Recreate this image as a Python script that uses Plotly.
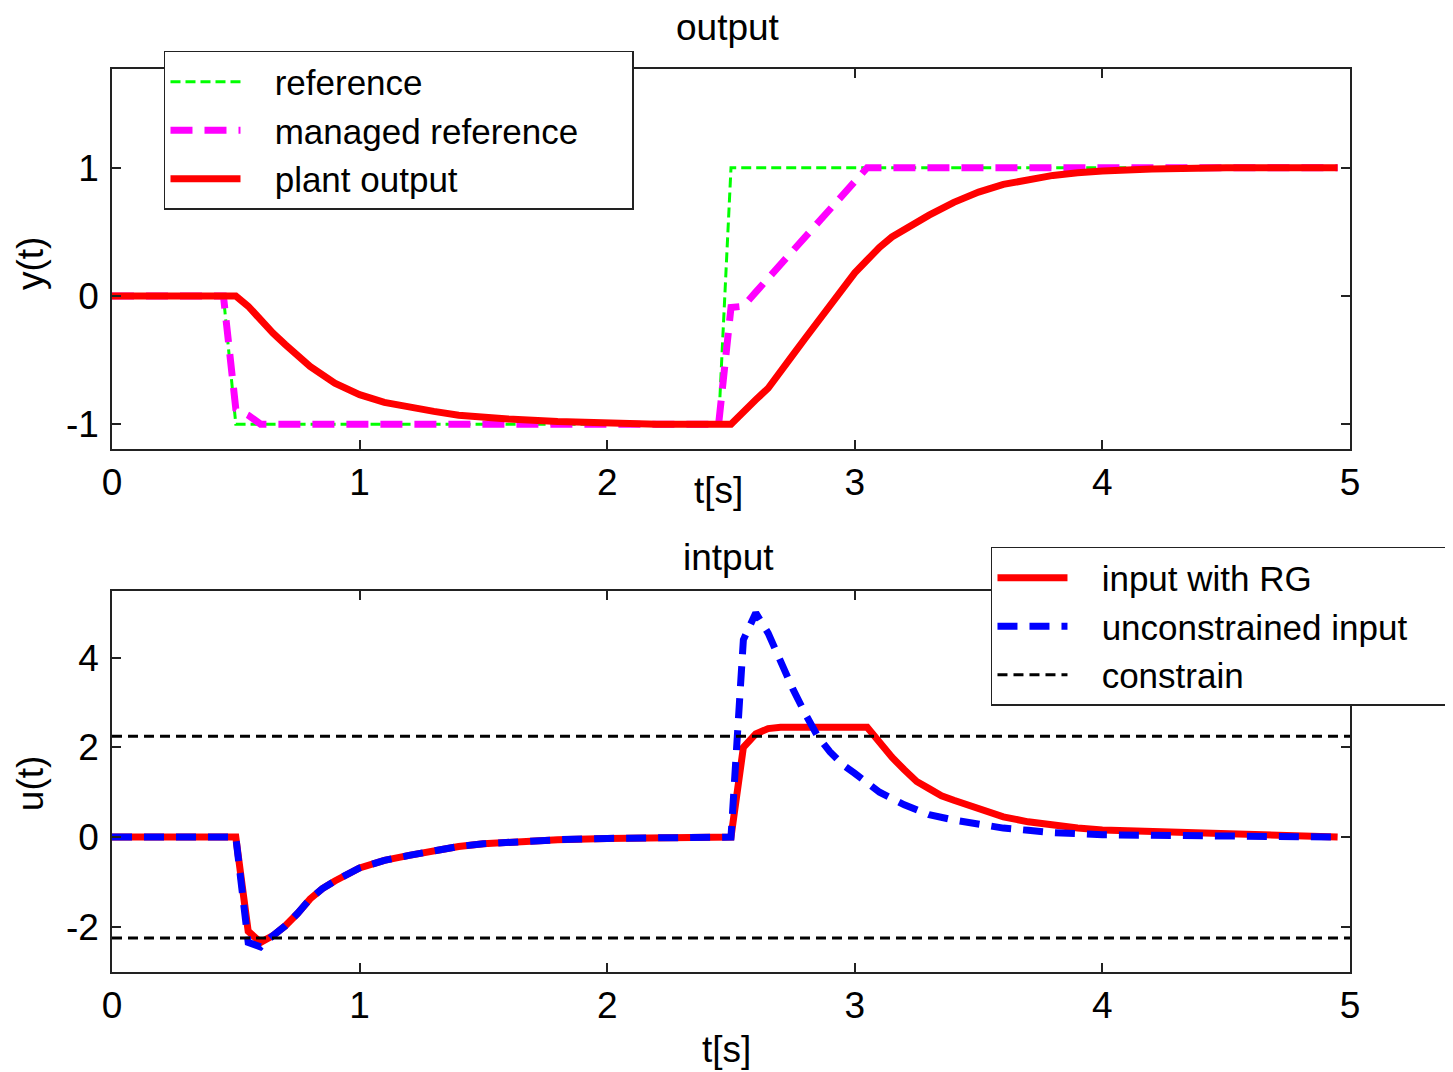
import plotly.graph_objects as go

# ---------------- data ----------------
# top: output
t_ref = [0, 0.45, 0.5, 2.45, 2.5, 4.95]
y_ref = [0, 0, -1, -1, 1, 1]

t_man = [0, 0.45, 0.5, 0.55, 0.6, 2.45, 2.5, 2.55, 2.6, 2.65, 2.7, 2.75, 2.8,
         2.85, 2.9, 2.95, 3.0, 3.05, 4.95]
y_man = [0, 0, -0.88, -0.93, -1, -1, -0.09, -0.08, 0.03, 0.14, 0.25, 0.36, 0.47,
         0.58, 0.69, 0.80, 0.91, 1.0, 1.0]

t_out = [0, 0.45, 0.5, 0.55, 0.6, 0.65, 0.7, 0.75, 0.8, 0.9, 1.0, 1.1, 1.2, 1.3,
         1.4, 1.5, 1.6, 1.8, 2.0, 2.2, 2.5, 2.55, 2.6, 2.65, 2.7, 2.75, 2.8, 2.85,
         2.9, 2.95, 3.0, 3.05, 3.1, 3.15, 3.2, 3.3, 3.4, 3.5, 3.6, 3.7, 3.8, 3.9,
         4.0, 4.2, 4.5, 4.95]
y_out = [0, 0, 0, -0.08, -0.19, -0.29, -0.38, -0.47, -0.55, -0.68, -0.77, -0.83,
         -0.87, -0.90, -0.93, -0.95, -0.96, -0.98, -0.99, -1.0, -1.0, -0.9, -0.81,
         -0.72, -0.6, -0.46, -0.33, -0.2, -0.06, 0.07, 0.18, 0.28, 0.38, 0.46, 0.52,
         0.63, 0.73, 0.81, 0.87, 0.91, 0.94, 0.96, 0.975, 0.99, 1.0, 1.0]

# bottom: input
t_rg = [0, 0.5, 0.55, 0.6, 0.65, 0.7, 0.75, 0.8, 0.85, 0.9, 1.0, 1.1, 1.2, 1.3,
        1.4, 1.5, 1.6, 1.8, 2.0, 2.2, 2.5, 2.55, 2.6, 2.65, 2.7, 3.05, 3.1, 3.15,
        3.2, 3.25, 3.3, 3.35, 3.4, 3.45, 3.5, 3.6, 3.7, 3.8, 3.9, 4.0, 4.2, 4.5,
        4.7, 4.95]
u_rg = [0, 0, -2.1, -2.35, -2.2, -1.98, -1.7, -1.38, -1.15, -0.98, -0.69, -0.52,
        -0.41, -0.30, -0.21, -0.15, -0.11, -0.06, -0.03, -0.01, 0, 2.0, 2.3, 2.42,
        2.45, 2.45, 2.1, 1.78, 1.5, 1.24, 1.08, 0.92, 0.82, 0.72, 0.62, 0.45, 0.34,
        0.26, 0.2, 0.16, 0.12, 0.08, 0.04, 0]

t_unc = [0, 0.5, 0.55, 0.6, 0.65, 0.7, 0.75, 0.8, 0.85, 0.9, 1.0, 1.1, 1.2, 1.3,
         1.4, 1.5, 1.6, 1.8, 2.0, 2.2, 2.5, 2.55, 2.6, 2.65, 2.7, 2.75, 2.8, 2.85,
         2.9, 2.95, 3.0, 3.1, 3.2, 3.3, 3.4, 3.5, 3.6, 3.7, 3.8, 4.0, 4.5, 4.95]
u_unc = [0, 0, -2.35, -2.45, -2.2, -1.98, -1.7, -1.38, -1.15, -0.98, -0.69, -0.52,
         -0.41, -0.30, -0.21, -0.15, -0.11, -0.06, -0.03, -0.01, 0, 4.4, 5.0, 4.55,
         3.9, 3.3, 2.75, 2.25, 1.9, 1.62, 1.42, 1.0, 0.72, 0.5, 0.38, 0.28, 0.2,
         0.15, 0.1, 0.05, 0.02, 0]

t_con = [0, 5]
u_con_hi = [2.25, 2.25]
u_con_lo = [-2.25, -2.25]

x_ticks = [0, 1, 2, 3, 4, 5]
x_ticktext = ["0", "1", "2", "3", "4", "5"]
y_ticks_top = [-1, 0, 1]
y_ticktext_top = ["-1", "0", "1"]
y_ticks_bot = [-2, 0, 2, 4]
y_ticktext_bot = ["-2", "0", "2", "4"]

# ---------------- figure ----------------
FONT = "Liberation Sans, Arial, sans-serif"
NB = "\u00a0"
PRE = NB * 3

fig = go.Figure()

fig.add_trace(go.Scatter(x=t_ref, y=y_ref, mode="lines", name=PRE + "reference",
                         line=dict(color="#00ff00", width=3, dash="10px,5px"),
                         xaxis="x", yaxis="y", legend="legend"))
fig.add_trace(go.Scatter(x=t_man, y=y_man, mode="lines",
                         name=PRE + "managed reference" + NB * 5,
                         line=dict(color="#ff00ff", width=7, dash="22px,12px"),
                         xaxis="x", yaxis="y", legend="legend"))
fig.add_trace(go.Scatter(x=t_out, y=y_out, mode="lines", name=PRE + "plant output",
                         line=dict(color="#ff0000", width=7),
                         xaxis="x", yaxis="y", legend="legend"))

fig.add_trace(go.Scatter(x=t_rg, y=u_rg, mode="lines", name=PRE + "input with RG",
                         line=dict(color="#ff0000", width=7),
                         xaxis="x2", yaxis="y2", legend="legend2"))
fig.add_trace(go.Scatter(x=t_unc, y=u_unc, mode="lines",
                         name=PRE + "unconstrained input" + NB * 5,
                         line=dict(color="#0000ff", width=7, dash="20px,12px"),
                         xaxis="x2", yaxis="y2", legend="legend2"))
fig.add_trace(go.Scatter(x=t_con, y=u_con_hi, mode="lines", name=PRE + "constrain",
                         line=dict(color="#000000", width=3, dash="10px,6px"),
                         xaxis="x2", yaxis="y2", legend="legend2"))
fig.add_trace(go.Scatter(x=t_con, y=u_con_lo, mode="lines", name="constrain",
                         showlegend=False,
                         line=dict(color="#000000", width=3, dash="10px,6px"),
                         xaxis="x2", yaxis="y2", legend="legend2"))

axis_common = dict(showline=True, linecolor="#222222", linewidth=1.5, mirror="ticks",
                   ticks="inside", ticklen=9, tickwidth=1.5, tickcolor="#222222",
                   showgrid=False, zeroline=False,
                   tickfont=dict(family=FONT, size=37, color="black"))

legend_common = dict(font=dict(family=FONT, size=35, color="black"),
                     bgcolor="white", bordercolor="#222222", borderwidth=1.5,
                     xref="paper", yref="paper", xanchor="left", yanchor="top",
                     itemwidth=70, tracegroupgap=0)

fig.update_layout(
    width=1453, height=1072,
    margin=dict(l=104, r=111, t=61, b=108, autoexpand=False),
    paper_bgcolor="white", plot_bgcolor="white",
    font=dict(family=FONT, color="black"),
    xaxis=dict(domain=[0, 1], range=[0, 5], tickvals=x_ticks, ticktext=x_ticktext,
               anchor="y", ticklabelstandoff=0, **axis_common),
    yaxis=dict(domain=[0.579, 1], range=[-1.195, 1.77], tickvals=y_ticks_top,
               ticktext=y_ticktext_top, anchor="x", ticklabelstandoff=4,
               **axis_common),
    xaxis2=dict(domain=[0, 1], range=[0, 5], tickvals=x_ticks, ticktext=x_ticktext,
                anchor="y2", ticklabelstandoff=0, **axis_common),
    yaxis2=dict(domain=[0, 0.422], range=[-3.01, 5.49], tickvals=y_ticks_bot,
                ticktext=y_ticktext_bot, anchor="x2", ticklabelstandoff=4,
                **axis_common),
    legend=dict(x=0.042, y=1.02, **legend_common),
    legend2=dict(x=0.71, y=0.4707, **legend_common),
    showlegend=True,
)

ann_font = dict(family=FONT, size=37, color="black")
annotations = [
    dict(text="output", x=0.4976, y=1.046, xref="paper", yref="paper",
         xanchor="center", yanchor="middle", showarrow=False, font=ann_font),
    dict(text="intput", x=0.4976, y=0.459, xref="paper", yref="paper",
         xanchor="center", yanchor="middle", showarrow=False, font=ann_font),
    dict(text="t[s]", x=0.4895, y=0.5327, xref="paper", yref="paper",
         xanchor="center", yanchor="middle", showarrow=False, font=ann_font),
    dict(text="t[s]", x=0.496, y=-0.0853, xref="paper", yref="paper",
         xanchor="center", yanchor="middle", showarrow=False, font=ann_font),
    dict(text="y(t)", x=-0.0663, y=0.785, xref="paper", yref="paper",
         xanchor="center", yanchor="middle", showarrow=False, textangle=-90,
         font=ann_font),
    dict(text="u(t)", x=-0.0663, y=0.209, xref="paper", yref="paper",
         xanchor="center", yanchor="middle", showarrow=False, textangle=-90,
         font=ann_font),
]
fig.update_layout(annotations=annotations)

fig.write_html("out.html")
